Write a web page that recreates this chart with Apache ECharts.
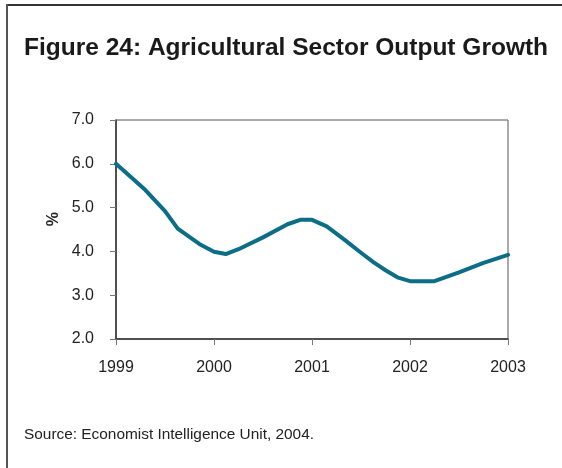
<!DOCTYPE html>
<html>
<head>
<meta charset="utf-8">
<script src="https://cdn.jsdelivr.net/npm/echarts@6/dist/echarts.min.js"></script>
<style>
  html, body { margin: 0; padding: 0; background: #fff; }
  #chart { width: 562px; height: 468px; }
</style>
</head>
<body>
<div id="chart"></div>
<script>
// Agricultural output growth, % (year, value)
const years = [
  1999.00, 1999.30, 1999.50, 1999.63, 1999.85,
  2000.00, 2000.12, 2000.25, 2000.50, 2000.75, 2000.88,
  2001.00, 2001.15, 2001.33, 2001.50, 2001.63, 2001.75, 2001.88,
  2002.00, 2002.25, 2002.50, 2002.75, 2003.00
];
const growth = [
  6.00, 5.40, 4.92, 4.52, 4.17,
  3.99, 3.94, 4.05, 4.32, 4.62, 4.72,
  4.72, 4.57, 4.27, 3.97, 3.75, 3.57, 3.40,
  3.32, 3.32, 3.52, 3.74, 3.92
];
const yTicks = [2, 3, 4, 5, 6, 7];
const xTicks = [1999, 2000, 2001, 2002, 2003];

const titleText = 'Figure 24: Agricultural Sector Output Growth';
const sourceText = 'Source: Economist Intelligence Unit, 2004.';
const yName = '%';

const chart = echarts.init(document.getElementById('chart'), null, { renderer: 'canvas' });

const font = '"Liberation Sans", Arial, sans-serif';

chart.setOption({
  animation: false,
  backgroundColor: '#ffffff',
  textStyle: { fontFamily: font },
  title: [{
    text: titleText,
    left: 24,
    top: 36,
    padding: 0,
    textStyle: { fontFamily: font, fontSize: 24.5, fontWeight: 'bold', color: '#1a1a1a' }
  }, {
    text: sourceText,
    left: 24,
    top: 427,
    padding: 0,
    textStyle: { fontFamily: font, fontSize: 15.4, fontWeight: 'normal', color: '#222' }
  }],
  graphic: [
    { type: 'line', shape: { x1: 7, y1: 5, x2: 562, y2: 5 }, style: { stroke: '#333', lineWidth: 2 } },
    { type: 'line', shape: { x1: 7, y1: 4, x2: 7, y2: 468 }, style: { stroke: '#555', lineWidth: 2 } },
    {
      type: 'text', left: 46, top: 212, rotation: Math.PI / 2,
      style: { text: yName, fontFamily: font, fontSize: 16, fontWeight: 'bold', fill: '#222' }
    }
  ],
  grid: {
    left: 116, top: 120, right: 54, bottom: 129,
    show: true, borderColor: '#555', borderWidth: 1, backgroundColor: 'transparent'
  },
  xAxis: {
    type: 'value',
    min: xTicks[0],
    max: xTicks[xTicks.length - 1],
    interval: 1,
    axisLine: { show: true, lineStyle: { color: '#333', width: 1.5 } },
    axisTick: { show: true, length: 6, inside: false, lineStyle: { color: '#777' } },
    axisLabel: {
      margin: 21, fontSize: 16, color: '#222', fontFamily: font,
      formatter: v => String(Math.round(v))
    },
    splitLine: { show: false }
  },
  yAxis: {
    type: 'value',
    min: yTicks[0],
    max: yTicks[yTicks.length - 1],
    interval: 1,
    axisLine: { show: true, lineStyle: { color: '#333', width: 1.5 } },
    axisTick: { show: true, length: 6, inside: false, lineStyle: { color: '#777' } },
    axisLabel: {
      margin: 22, fontSize: 16, color: '#222', fontFamily: font,
      formatter: v => v.toFixed(1)
    },
    splitLine: { show: false }
  },
  series: [{
    type: 'line',
    data: years.map((y, i) => [y, growth[i]]),
    showSymbol: false,
    smooth: false,
    lineStyle: { color: '#0b6e86', width: 4, join: 'round', cap: 'round' },
    clip: false
  }]
});
</script>
</body>
</html>
